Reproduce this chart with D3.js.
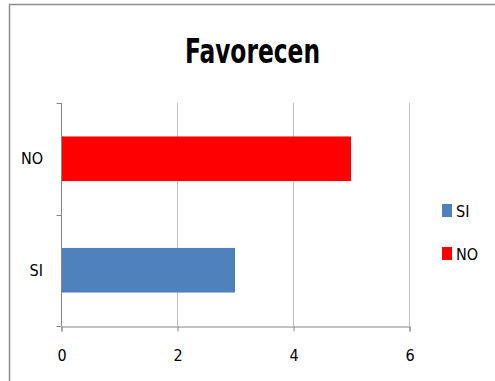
<!DOCTYPE html>
<html>
<head>
<meta charset="utf-8">
<script src="https://cdn.jsdelivr.net/npm/d3@7"></script>
<style>
  html, body { margin: 0; padding: 0; background: #fff; }
  svg { display: block; }
  text { font-family: "DejaVu Sans Condensed", "DejaVu Sans", sans-serif; font-stretch: condensed; }
</style>
</head>
<body>
<svg id="chart" width="495" height="381"></svg>
<script>
// Respuestas y conteos
const categories = ["SI", "NO"];
const values = [3, 5];
const colors = ["#4f81bd", "#ff0000"];
const xTicks = [0, 2, 4, 6];
const title = "Favorecen";

const svg = d3.select("#chart");
const W = 495, H = 381;

// Marco del gráfico
svg.append("rect")
  .attr("x", 9.5).attr("y", 4.5)
  .attr("width", W + 10).attr("height", H + 10)
  .attr("fill", "#fff").attr("stroke", "#8c8c8c").attr("stroke-width", 1.5);

const plot = { left: 61, right: 409, top: 103, bottom: 326 };

const x = d3.scaleLinear().domain([0, 6]).range([plot.left, plot.right]);
// Orden de abajo hacia arriba: SI abajo, NO arriba
const y = d3.scaleBand().domain(categories.slice().reverse())
  .range([plot.top, plot.bottom]).paddingInner(0.6).paddingOuter(0.3);

// Líneas de cuadrícula verticales
svg.append("g")
  .selectAll("line").data(xTicks.filter(d => d > 0)).join("line")
  .attr("x1", d => Math.round(x(d)) + 0.5).attr("x2", d => Math.round(x(d)) + 0.5)
  .attr("y1", plot.top).attr("y2", plot.bottom)
  .attr("stroke", "#bfbfbf").attr("stroke-width", 1);

// Barras
svg.append("g")
  .selectAll("rect").data(categories).join("rect")
  .attr("x", x(0))
  .attr("y", d => y(d))
  .attr("width", (d, i) => x(values[i]) - x(0))
  .attr("height", y.bandwidth())
  .attr("fill", (d, i) => colors[i]);

// Eje X
const xAxis = d3.axisBottom(x).tickValues(xTicks).tickFormat(d3.format("d"))
  .tickSize(5).tickPadding(18);
const gx = svg.append("g").attr("transform", `translate(0.5,${plot.bottom + 0.5})`).call(xAxis);
gx.select(".domain").attr("stroke", "#868686");
gx.selectAll(".tick line").attr("stroke", "#868686");
gx.selectAll("text").attr("font-size", 16).attr("fill", "#000")
  .attr("font-family", "'DejaVu Sans Condensed', sans-serif");

// Eje Y con marcas entre categorías
const yAxisLine = svg.append("g").attr("transform", "translate(0.5,0)");
yAxisLine.append("line")
  .attr("x1", plot.left).attr("x2", plot.left)
  .attr("y1", plot.top).attr("y2", plot.bottom)
  .attr("stroke", "#868686");
const yBounds = [plot.top, (plot.top + plot.bottom) / 2, plot.bottom];
yAxisLine.selectAll("line.tk").data(yBounds).join("line").attr("class", "tk")
  .attr("x1", plot.left - 5).attr("x2", plot.left)
  .attr("y1", d => Math.round(d) + 0.5).attr("y2", d => Math.round(d) + 0.5)
  .attr("stroke", "#868686");
svg.append("g").selectAll("text").data(categories).join("text")
  .attr("x", 43)
  .attr("y", d => y(d) + y.bandwidth() / 2)
  .attr("dy", "0.35em")
  .attr("text-anchor", "end")
  .attr("font-size", 16)
  .text(d => d);

// Título
svg.append("text")
  .attr("x", 185).attr("y", 63)
  .attr("font-size", 34).attr("font-weight", "bold")
  .attr("textLength", 135).attr("lengthAdjust", "spacingAndGlyphs")
  .text(title);

// Leyenda
const leg = svg.append("g").selectAll("g").data(categories).join("g")
  .attr("transform", (d, i) => `translate(442,${204 + i * 43})`);
leg.append("rect").attr("width", 10).attr("height", 13).attr("fill", (d, i) => colors[i]);
leg.append("text").attr("x", 14).attr("y", 7).attr("dy", "0.35em")
  .attr("font-size", 16).text(d => d);
</script>
</body>
</html>
